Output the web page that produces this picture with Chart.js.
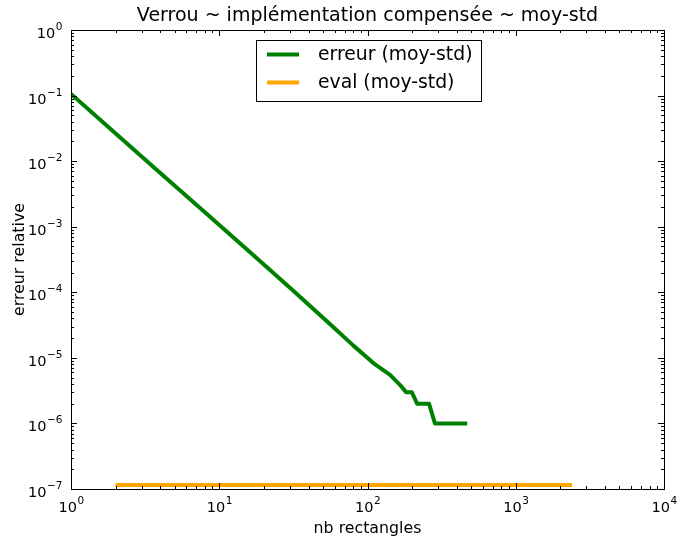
<!DOCTYPE html>
<html>
<head>
<meta charset="utf-8">
<script src="https://cdn.jsdelivr.net/npm/chart.js@4/dist/chart.umd.min.js"></script>
<style>
html,body{margin:0;padding:0;background:#fff;}
canvas{display:block;}
</style>
</head>
<body>
<canvas id="c" width="678" height="537"></canvas>
<script>
// ---- data ----
const titleText = "Verrou ~ implémentation compensée ~ moy-std";
const xLabel = "nb rectangles";
const yLabel = "erreur relative";
const seriesNames = ["erreur (moy-std)", "eval (moy-std)"];
const seriesColors = ["#008000", "#FFA500"];

const nbErreur = [1, 2, 4, 8, 16, 32, 56, 80, 112, 142, 166, 182, 199, 216, 260, 285, 470];
const erreurVals = [0.106, 0.0265, 0.0066, 0.00166, 4.15e-4, 1.03e-4, 3.25e-5, 1.55e-5, 8.0e-6, 5.5e-6, 3.85e-6, 3e-6, 3e-6, 2e-6, 2e-6, 1e-6, 1e-6];

const nbEval = [2, 2400];
const evalVals = [1.15e-7, 1.15e-7];

const xExponents = [0, 1, 2, 3, 4];
const yExponents = [-7, -6, -5, -4, -3, -2, -1, 0];

const FONT = "'DejaVu Sans', sans-serif";
const TICK_PX = 14.5, SUP_PX = 10.5;

function toPoints(xs, ys) { return xs.map((x, i) => ({x: x, y: ys[i]})); }

function drawPow(ctx, exp, x, baseY, align) {
  const base = "10", sup = String(exp).replace("-", "\u2212");
  ctx.font = TICK_PX + "px " + FONT;
  const wb = ctx.measureText(base).width;
  ctx.font = SUP_PX + "px " + FONT;
  const ws = ctx.measureText(sup).width;
  let x0;
  if (align === "center") x0 = x - (wb + ws) / 2;
  else x0 = x - (wb + ws);
  ctx.textAlign = "left";
  ctx.textBaseline = "alphabetic";
  ctx.font = TICK_PX + "px " + FONT;
  ctx.fillText(base, x0, baseY);
  ctx.font = SUP_PX + "px " + FONT;
  ctx.fillText(sup, x0 + wb + 0.5, baseY - 8);
}

const mplAxes = {
  id: "mplAxes",
  afterDraw(chart) {
    const ctx = chart.ctx, a = chart.chartArea;
    const xs = chart.scales.x, ys = chart.scales.y;
    ctx.save();
    ctx.strokeStyle = "#000";
    ctx.fillStyle = "#000";
    ctx.lineWidth = 1;
    // frame
    ctx.strokeRect(Math.round(a.left) + 0.5, Math.round(a.top) + 0.5,
                   Math.round(a.right - a.left), Math.round(a.bottom - a.top));
    // ticks
    ctx.beginPath();
    for (let i = 0; i < xExponents.length; i++) {
      const e = xExponents[i];
      const px = Math.round(xs.getPixelForValue(Math.pow(10, e))) + 0.5;
      ctx.moveTo(px, a.bottom); ctx.lineTo(px, a.bottom - 6);
      ctx.moveTo(px, a.top); ctx.lineTo(px, a.top + 6);
      if (i < xExponents.length - 1) {
        for (let k = 2; k <= 9; k++) {
          const pm = Math.round(xs.getPixelForValue(k * Math.pow(10, e))) + 0.5;
          ctx.moveTo(pm, a.bottom); ctx.lineTo(pm, a.bottom - 3);
          ctx.moveTo(pm, a.top); ctx.lineTo(pm, a.top + 3);
        }
      }
    }
    for (let i = 0; i < yExponents.length; i++) {
      const e = yExponents[i];
      const py = Math.round(ys.getPixelForValue(Math.pow(10, e))) + 0.5;
      ctx.moveTo(a.left, py); ctx.lineTo(a.left + 6, py);
      ctx.moveTo(a.right, py); ctx.lineTo(a.right - 6, py);
      if (i < yExponents.length - 1) {
        for (let k = 2; k <= 9; k++) {
          const pm = Math.round(ys.getPixelForValue(k * Math.pow(10, e))) + 0.5;
          ctx.moveTo(a.left, pm); ctx.lineTo(a.left + 3, pm);
          ctx.moveTo(a.right, pm); ctx.lineTo(a.right - 3, pm);
        }
      }
    }
    ctx.stroke();
    // tick labels
    xExponents.forEach(e => {
      drawPow(ctx, e, xs.getPixelForValue(Math.pow(10, e)), a.bottom + 23, "center");
    });
    yExponents.forEach(e => {
      drawPow(ctx, e, a.left - 9, ys.getPixelForValue(Math.pow(10, e)) + 8, "right");
    });
    // axis titles
    ctx.font = "15.8px " + FONT;
    ctx.textAlign = "center";
    ctx.textBaseline = "alphabetic";
    ctx.fillText(xLabel, (a.left + a.right) / 2, a.bottom + 44);
    ctx.save();
    ctx.translate(24, (a.top + a.bottom) / 2);
    ctx.rotate(-Math.PI / 2);
    ctx.fillText(yLabel, 0, 0);
    ctx.restore();
    // legend
    const lx = a.left + 185, ly = a.top + 10, lw = 225, lh = 61;
    ctx.fillStyle = "#fff";
    ctx.fillRect(lx, ly, lw, lh);
    ctx.strokeStyle = "#000";
    ctx.lineWidth = 1;
    ctx.strokeRect(lx + 0.5, ly + 0.5, lw, lh);
    ctx.font = "18.8px " + FONT;
    ctx.textAlign = "left";
    ctx.textBaseline = "middle";
    seriesNames.forEach((name, i) => {
      const yy = ly + 14.5 + i * 28;
      ctx.strokeStyle = seriesColors[i];
      ctx.lineWidth = 4;
      ctx.beginPath();
      ctx.moveTo(lx + 11, yy); ctx.lineTo(lx + 43, yy);
      ctx.stroke();
      ctx.fillStyle = "#000";
      ctx.fillText(name, lx + 62, yy + 1);
    });
    ctx.restore();
  }
};

new Chart(document.getElementById("c"), {
  type: "line",
  data: {
    datasets: [
      { label: seriesNames[0], data: toPoints(nbErreur, erreurVals),
        borderColor: seriesColors[0], borderWidth: 4, pointRadius: 0,
        tension: 0, fill: false, borderCapStyle: "butt", borderJoinStyle: "round" },
      { label: seriesNames[1], data: toPoints(nbEval, evalVals),
        borderColor: seriesColors[1], borderWidth: 4, pointRadius: 0,
        tension: 0, fill: false, borderCapStyle: "butt", borderJoinStyle: "round" }
    ]
  },
  options: {
    responsive: false,
    animation: false,
    devicePixelRatio: 1,
    layout: { padding: { left: 0, right: 14, top: 0, bottom: 0 } },
    plugins: {
      legend: { display: false },
      tooltip: { enabled: false },
      title: {
        display: true, text: titleText, color: "#000", fullSize: false,
        font: { family: FONT, size: 19, weight: "normal", lineHeight: 1.0 },
        padding: { top: 6.5, bottom: 4.5 }
      }
    },
    scales: {
      x: { type: "logarithmic", min: 1, max: 10000,
           ticks: { display: false }, grid: { display: false }, border: { display: false },
           afterFit: s => { s.height = 48; } },
      y: { type: "logarithmic", min: 1e-7, max: 1,
           ticks: { display: false }, grid: { display: false }, border: { display: false },
           afterFit: s => { s.width = 71; } }
    }
  },
  plugins: [mplAxes]
});
</script>
</body>
</html>
